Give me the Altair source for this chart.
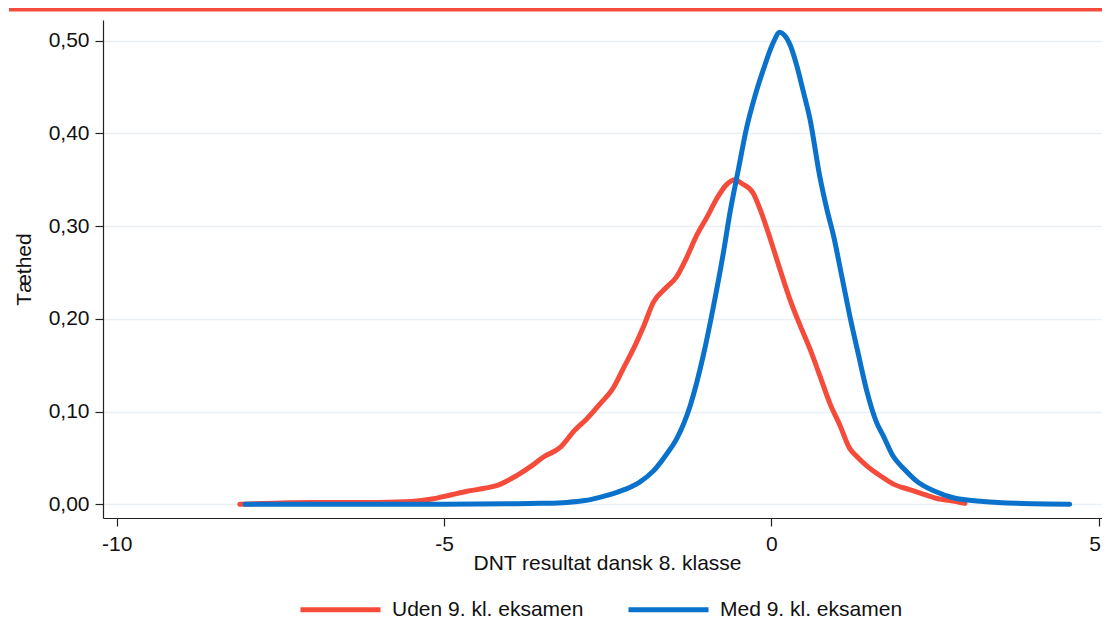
import altair as alt
import pandas as pd

# Series: kernel density of DNT result, without 9th grade exam (Uden) and with (Med)
uden_x = [-8.12, -7.5, -7.0, -6.5, -6.0, -5.5, -5.16, -4.9, -4.65, -4.40, -4.20, -3.89,
          -3.65, -3.48, -3.23, -3.0, -2.82, -2.62, -2.41, -2.25, -2.11, -1.95, -1.80,
          -1.60, -1.45, -1.30, -1.14, -0.98, -0.83, -0.68, -0.55, -0.45, -0.28, -0.17,
          -0.07, 0.13, 0.30, 0.44, 0.60, 0.74, 0.90, 1.05, 1.20, 1.30, 1.45, 1.66, 1.86,
          2.10, 2.32, 2.55, 2.73, 2.96]
uden_y = [0.000, 0.0015, 0.002, 0.0018, 0.002, 0.003, 0.006, 0.010, 0.014, 0.017, 0.020,
          0.031, 0.042, 0.051, 0.061, 0.080, 0.092, 0.108, 0.126, 0.148, 0.167, 0.192,
          0.218, 0.234, 0.245, 0.265, 0.290, 0.310, 0.330, 0.345, 0.350, 0.346, 0.336,
          0.318, 0.298, 0.254, 0.218, 0.193, 0.166, 0.139, 0.108, 0.085, 0.060, 0.052,
          0.042, 0.031, 0.022, 0.016, 0.011, 0.006, 0.004, 0.001]

med_x = [-8.04, -7.0, -6.0, -5.0, -4.0, -3.53, -3.13, -2.85, -2.62, -2.35, -2.11, -2.01,
         -1.80, -1.60, -1.45, -1.24, -1.04, -0.89, -0.73, -0.63, -0.50, -0.38, -0.25,
         -0.12, 0.03, 0.13, 0.20, 0.29, 0.39, 0.49, 0.59, 0.74, 0.85, 0.95, 1.08, 1.20,
         1.33, 1.46, 1.61, 1.71, 1.86, 2.03, 2.22, 2.50, 2.78, 3.24, 3.75, 4.56]
med_y = [0.000, 0.000, 0.000, 0.000, 0.0005, 0.001, 0.002, 0.004, 0.0075, 0.013, 0.020,
         0.024, 0.036, 0.054, 0.070, 0.106, 0.160, 0.211, 0.272, 0.315, 0.362, 0.405,
         0.440, 0.469, 0.498, 0.509, 0.506, 0.495, 0.473, 0.445, 0.416, 0.354, 0.318,
         0.290, 0.245, 0.203, 0.162, 0.122, 0.088, 0.074, 0.052, 0.038, 0.025, 0.014,
         0.007, 0.003, 0.001, 0.000]

series_names = ["Uden 9. kl. eksamen", "Med 9. kl. eksamen"]
series_colors = ["#f44b3b", "#0a72cb"]
x_ticks = [-10, -5, 0, 5]
y_ticks = [0.0, 0.1, 0.2, 0.3, 0.4, 0.5]

df_uden = pd.DataFrame({"x": uden_x, "y": uden_y, "serie": series_names[0]})
df_med = pd.DataFrame({"x": med_x, "y": med_y, "serie": series_names[1]})

FONT = "Liberation Sans"
FS = 21

x_enc = alt.X("x:Q",
              scale=alt.Scale(domain=[-10.21, 5.053], nice=False, zero=False),
              axis=alt.Axis(values=x_ticks, title="DNT resultat dansk 8. klasse",
                            labelExpr="'' + datum.value", grid=False,
                            tickSize=8, labelPadding=7,
                            labelOffset={"condition": {"test": "datum.value == 5", "value": -4},
                                         "value": 0},
                            titleY=51, titleBaseline="alphabetic", titleX=504))
y_enc = alt.Y("y:Q",
              scale=alt.Scale(domain=[-0.0148, 0.5223], nice=False, zero=False),
              axis=alt.Axis(values=y_ticks, title="Tæthed",
                            labelExpr="replace(format(datum.value, '.2f'), '.', ',')",
                            grid=True, gridColor="#e9eff3", gridWidth=1.6,
                            tickSize=8, labelPadding=6,
                            titleX=-73, titleY=249, titleBaseline="alphabetic",
                            titleAngle=270))
color_enc = alt.Color("serie:N",
                      scale=alt.Scale(domain=series_names, range=series_colors),
                      legend=alt.Legend(title=None, orient="none", direction="horizontal",
                                        legendX=195, legendY=547,
                                        symbolType="stroke", symbolSize=6400,
                                        symbolStrokeWidth=5, labelFontSize=FS,
                                        labelFont=FONT, labelColor="#111",
                                        labelLimit=400,
                                        labelOffset=9, columnPadding=34))

red_line = alt.Chart(df_uden).mark_line(strokeWidth=5, strokeCap="round",
                                        strokeJoin="round", interpolate="monotone").encode(
    x=x_enc, y=y_enc, color=color_enc)
blue_line = alt.Chart(df_med).mark_line(strokeWidth=5, strokeCap="round",
                                        strokeJoin="round", interpolate="monotone").encode(
    x=x_enc, y=y_enc, color=color_enc)

top_bar = alt.Chart(pd.DataFrame({"k": [0]})).mark_rule(
    color=series_colors[0], strokeWidth=3.6).encode(
    x=alt.value(-94), x2=alt.value(999), y=alt.value(-10.2))

chart = alt.layer(top_bar, red_line, blue_line).properties(
    width=999, height=498,
    autosize=alt.AutoSizeParams(type="none"),
    padding={"left": 95, "top": 12, "right": 0, "bottom": 101},
    background="white",
).configure_view(stroke=None).configure_axis(
    labelFont=FONT, titleFont=FONT, labelFontSize=FS, titleFontSize=FS,
    labelColor="#111", titleColor="#111", titleFontWeight="normal",
    domainColor="#222", domainWidth=1.2, tickColor="#222", tickWidth=1.2,
)

chart.save("out.html", embed_options={"renderer": "svg", "actions": False})
